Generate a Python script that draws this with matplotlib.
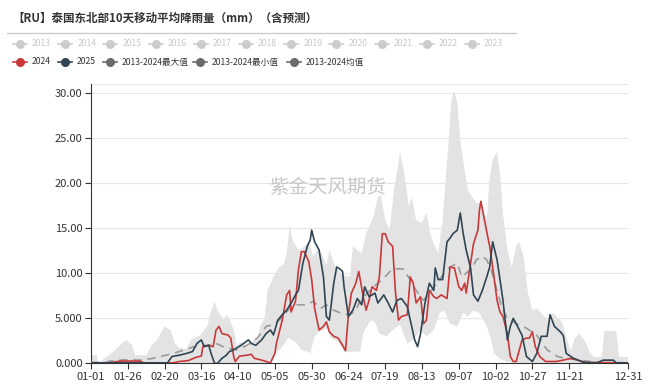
import numpy as np
from matplotlib import pyplot as plt
from matplotlib.lines import Line2D

plt.rcParams['font.family'] = ['Noto Sans CJK SC', 'DejaVu Sans']

title = '【RU】泰国东北部10天移动平均降雨量（mm）（含预测）'
watermark = '紫金天风期货'

# x = 第几天 (0 = 01-01, 365 = 12-31)
tick_days = [0, 25, 50, 75, 100, 125, 150, 175, 200, 225, 250, 275, 300, 325, 365]
tick_labels = ['01-01', '01-26', '02-20', '03-16', '04-10', '05-05', '05-30', '06-24',
               '07-19', '08-13', '09-07', '10-02', '10-27', '11-21', '12-31']

grey_years = ['2013', '2014', '2015', '2016', '2017', '2018', '2019', '2020', '2021', '2022', '2023']
main_names = ['2024', '2025', '2013-2024最大值', '2013-2024最小值', '2013-2024均值']

max_days = [0, 4, 5, 8, 15, 21, 24, 28, 30, 38, 41, 45, 50, 54, 57, 60, 65, 68, 74, 79, 81, 84, 86, 90,
            92, 94, 97, 99, 102, 106, 109, 113, 115, 118, 120, 124, 127, 131, 133, 135, 137, 141, 144,
            148, 151, 154, 157, 160, 162, 166, 171, 176, 178, 184, 187, 192, 195, 197, 200, 203, 206,
            209, 210, 213, 216, 218, 221, 225, 228, 231, 236, 239, 243, 245, 247, 249, 251, 253, 256,
            259, 262, 265, 269, 271, 273, 276, 278, 280, 283, 286, 289, 291, 294, 297, 300, 303, 306,
            310, 314, 320, 323, 326, 329, 332, 336, 339, 342, 347, 349, 357, 359, 365]
max_vals = [0.9, 0.9, 0.0, 0.4, 1.3, 2.2, 2.6, 2.0, 0.9, 0.9, 2.0, 2.6, 4.1, 3.7, 2.2, 1.7, 1.6, 2.6, 3.1,
            4.1, 5.4, 6.9, 5.9, 4.8, 5.4, 5.0, 3.7, 2.0, 2.4, 1.8, 2.4, 2.8, 4.1, 5.0, 8.1, 9.6, 10.5,
            11.0, 12.2, 15.3, 13.7, 12.6, 12.8, 13.5, 11.9, 12.6, 12.2, 10.9, 12.6, 10.7, 9.8, 9.6, 13.0,
            12.2, 14.4, 16.3, 18.5, 18.7, 15.9, 14.8, 19.3, 22.2, 23.5, 21.1, 17.4, 18.5, 15.9, 15.6,
            16.7, 14.1, 12.2, 15.9, 24.4, 29.3, 30.2, 28.9, 24.8, 22.6, 19.3, 18.5, 17.8, 17.8, 15.9,
            20.7, 22.6, 23.5, 21.1, 16.7, 12.6, 10.7, 13.0, 13.5, 11.9, 7.8, 5.9, 6.1, 5.6, 4.8, 5.6,
            4.6, 3.0, 1.4, 2.8, 3.3, 2.4, 1.2, 0.7, 0.7, 3.6, 3.6, 0.7, 0.7]

min_days = [0, 118, 122, 125, 128, 131, 134, 137, 140, 143, 147, 149, 152, 155, 158, 160, 163, 168, 172,
            175, 178, 183, 185, 190, 193, 196, 201, 205, 210, 215, 219, 224, 228, 233, 237, 240, 244,
            249, 253, 256, 260, 264, 269, 272, 274, 278, 284, 290, 365]
min_vals = [0.0, 0.0, 0.2, 1.0, 1.5, 2.0, 2.8, 2.6, 2.2, 1.5, 1.3, 1.1, 3.0, 3.5, 3.7, 3.9, 2.8, 2.4, 1.3,
            1.2, 1.3, 1.3, 3.3, 4.8, 4.6, 3.3, 3.0, 3.7, 4.3, 2.2, 2.6, 3.7, 3.0, 3.7, 5.6, 5.9, 4.4,
            4.1, 5.6, 5.2, 5.9, 5.6, 4.1, 2.6, 1.1, 0.5, 0.1, 0.0, 0.0]

mean_days = [0, 10, 13, 24, 33, 42, 51, 60, 70, 79, 85, 92, 99, 106, 113, 119, 124, 128, 133, 137, 142,
             147, 151, 156, 160, 165, 171, 176, 180, 183, 192, 198, 205, 212, 217, 221, 226, 230, 235,
             240, 244, 249, 252, 255, 259, 262, 266, 269, 272, 276, 279, 283, 289, 296, 303, 310, 317,
             323, 330, 339, 350, 365]
mean_vals = [0.1, 0.1, 0.25, 0.4, 0.35, 0.55, 0.9, 1.3, 1.85, 2.0, 2.2, 1.7, 1.5, 2.0, 2.8, 4.1, 4.3, 4.8,
             5.7, 6.5, 6.5, 6.5, 6.9, 6.1, 6.5, 5.9, 5.5, 5.4, 5.9, 7.0, 8.5, 9.3, 10.5, 10.5, 9.3, 8.1,
             7.0, 7.8, 8.9, 10.0, 10.7, 11.1, 9.6, 10.0, 10.6, 11.5, 11.9, 11.5, 10.4, 8.1, 6.3, 5.0,
             4.4, 3.9, 3.1, 1.5, 0.75, 0.55, 0.4, 0.2, 0.05, 0.05]

y2024_days = [0, 12, 20, 33, 36, 56, 60, 66, 72, 75, 76, 80, 83, 85, 87, 89, 93, 95, 97, 98, 101, 106, 109,
              111, 115, 119, 122, 125, 126, 130, 133, 135, 136, 139, 141, 143, 145, 148, 150, 152, 155,
              158, 160, 162, 165, 168, 171, 173, 175, 177, 180, 182, 183, 185, 187, 189, 191, 194, 196,
              198, 200, 202, 205, 207, 209, 211, 215, 217, 219, 221, 224, 226, 228, 230, 233, 235, 238,
              242, 244, 247, 250, 252, 254, 255, 257, 260, 263, 264, 265, 267, 269, 271, 273, 276, 278,
              280, 283, 285, 287, 289, 293, 296, 298, 300, 302, 305, 309, 316, 321, 326, 331, 335, 365]
y2024_vals = [0.05, 0.05, 0.25, 0.25, 0.05, 0.05, 0.2, 0.3, 0.7, 0.8, 1.85, 2.0, 1.85, 3.7, 4.1, 3.3, 3.15,
              2.8, 0.75, 0.2, 0.8, 0.9, 1.0, 0.55, 0.4, 0.2, 0.05, 1.1, 2.2, 4.8, 7.6, 8.1, 5.7, 6.9,
              10.4, 12.4, 12.4, 11.3, 9.3, 6.1, 3.7, 4.1, 4.6, 3.5, 3.0, 2.8, 2.0, 1.4, 5.5, 7.8, 8.9,
              10.2, 9.3, 7.4, 5.9, 7.0, 8.5, 8.1, 9.6, 14.4, 14.4, 13.5, 13.0, 7.8, 4.8, 5.2, 5.4, 9.6,
              8.9, 6.7, 7.4, 4.4, 4.8, 8.1, 7.4, 7.2, 7.6, 7.2, 10.7, 10.6, 8.5, 8.1, 8.9, 7.8, 10.0,
              13.3, 14.8, 17.0, 18.0, 16.3, 14.6, 13.0, 10.7, 7.0, 5.7, 5.2, 3.3, 0.75, 0.2, 0.2, 2.6,
              2.8, 2.8, 3.5, 1.85, 0.75, 0.2, 0.2, 0.35, 0.55, 0.35, 0.1, 0.05]

y2025_days = [0, 52, 55, 60, 65, 69, 72, 75, 77, 80, 82, 84, 86, 89, 92, 94, 97, 99, 102, 107, 109, 112,
              116, 119, 122, 124, 127, 130, 133, 136, 139, 141, 144, 147, 149, 150, 152, 155, 158, 160,
              162, 165, 167, 169, 171, 172, 175, 178, 181, 184, 186, 189, 193, 195, 199, 202, 205, 208,
              211, 215, 217, 220, 222, 224, 227, 230, 233, 234, 236, 239, 242, 244, 246, 249, 251, 253,
              255, 258, 260, 263, 266, 269, 271, 273, 276, 278, 280, 283, 285, 287, 289, 293, 296, 300,
              303, 306, 310, 312, 315, 319, 321, 323, 328, 335, 344, 348, 355, 357, 365]
y2025_vals = [0.05, 0.05, 0.75, 0.9, 1.1, 1.3, 2.2, 2.6, 1.85, 2.0, 0.9, 0.0, 0.0, 0.55, 0.9, 1.3, 1.5,
              1.7, 2.0, 2.6, 2.2, 2.0, 2.6, 3.3, 3.7, 3.15, 4.8, 5.4, 5.9, 6.7, 7.6, 8.1, 11.1, 13.0,
              13.7, 14.8, 13.5, 12.6, 9.6, 5.2, 4.8, 8.9, 10.7, 10.5, 10.2, 8.5, 5.2, 5.9, 7.2, 6.5,
              8.5, 7.4, 7.8, 6.7, 7.6, 6.7, 5.7, 7.0, 7.2, 6.3, 4.8, 2.6, 1.85, 3.3, 6.7, 8.9, 8.1,
              10.6, 9.3, 9.3, 13.5, 13.9, 14.4, 14.8, 16.7, 14.4, 12.6, 10.6, 7.6, 6.9, 8.1, 9.6, 10.7,
              13.5, 11.5, 9.3, 7.0, 2.6, 4.1, 5.0, 4.4, 3.1, 0.75, 0.2, 1.1, 3.0, 3.0, 5.4, 4.1, 3.5,
              3.1, 1.1, 0.55, 0.1, 0.05, 0.35, 0.35, 0.05, 0.05]

red = '#c9393a'
navy = '#2f4554'
dark_grey = '#6b6b6b'

fig = plt.figure(figsize=(6.62, 3.84), dpi=100)
ax = fig.add_axes([91 / 662, 1 - 363.3 / 384, 537 / 662, 279 / 384])

# 最大/最小值之间的灰色区域
band_x = np.concatenate([max_days, min_days[::-1]])
band_y = np.concatenate([max_vals, min_vals[::-1]])
ax.fill(band_x, band_y, color='#e3e3e3', lw=0, zorder=1)

ax.plot(mean_days, mean_vals, color='#9a9a9a', lw=1.2, ls=(0, (5, 3.5)), zorder=3)
ax.plot(y2024_days, y2024_vals, color=red, lw=1.2, zorder=4)
ax.plot(y2025_days, y2025_vals, color=navy, lw=1.2, zorder=5)

ax.set_xlim(0, 365)
ax.set_ylim(0, 31)
ax.set_yticks([0, 5, 10, 15, 20, 25, 30])
ax.set_yticklabels(['0.000', '5.000', '10.00', '15.00', '20.00', '25.00', '30.00'])
ax.set_xticks(tick_days)
ax.set_xticklabels(tick_labels)
ax.tick_params(labelsize=8, colors='#333333', length=4, width=0.8, pad=2)
for y in [5, 10, 15, 20, 25, 30, 31]:
    ax.axhline(y, color='#e6e6e6', lw=0.8, zorder=0)
for s in ['top', 'right']:
    ax.spines[s].set_visible(False)
ax.spines['left'].set_color('#333333')
ax.spines['bottom'].set_color('#333333')
ax.spines['left'].set_linewidth(0.8)
ax.spines['bottom'].set_linewidth(0.8)

ax.text(0.44, 0.63, watermark, transform=ax.transAxes, ha='center', va='center',
        fontsize=14, color='#c8c8c8', zorder=2)

# 标题与图例 (像素坐标)
top = fig.add_axes([0, 0, 1, 1], zorder=-1)
top.set_xlim(0, 662)
top.set_ylim(384, 0)
top.axis('off')
top.text(12, 18, title, fontsize=8.3, fontweight='bold', color='#333333', va='center')
top.add_line(Line2D([7, 516], [33, 33], color='#cccccc', lw=1))


def legend_item(x, y, name, color, text_color):
    top.add_line(Line2D([x, x + 14], [y, y], color=color, lw=1.2))
    top.plot([x + 7], [y], 'o', color=color, ms=5.5)
    top.text(x + 19, y, name, fontsize=6.2, color=text_color, va='center')


for i, name in enumerate(grey_years):
    legend_item(13 + i * 45.2, 43.5, name, '#cccccc', '#c8c8c8')

main_x = [13, 58, 103, 193, 287]
main_colors = [red, navy, dark_grey, dark_grey, dark_grey]
for x, name, c in zip(main_x, main_names, main_colors):
    legend_item(x, 62, name, c, '#333333')

plt.savefig('out.png', dpi=100)
